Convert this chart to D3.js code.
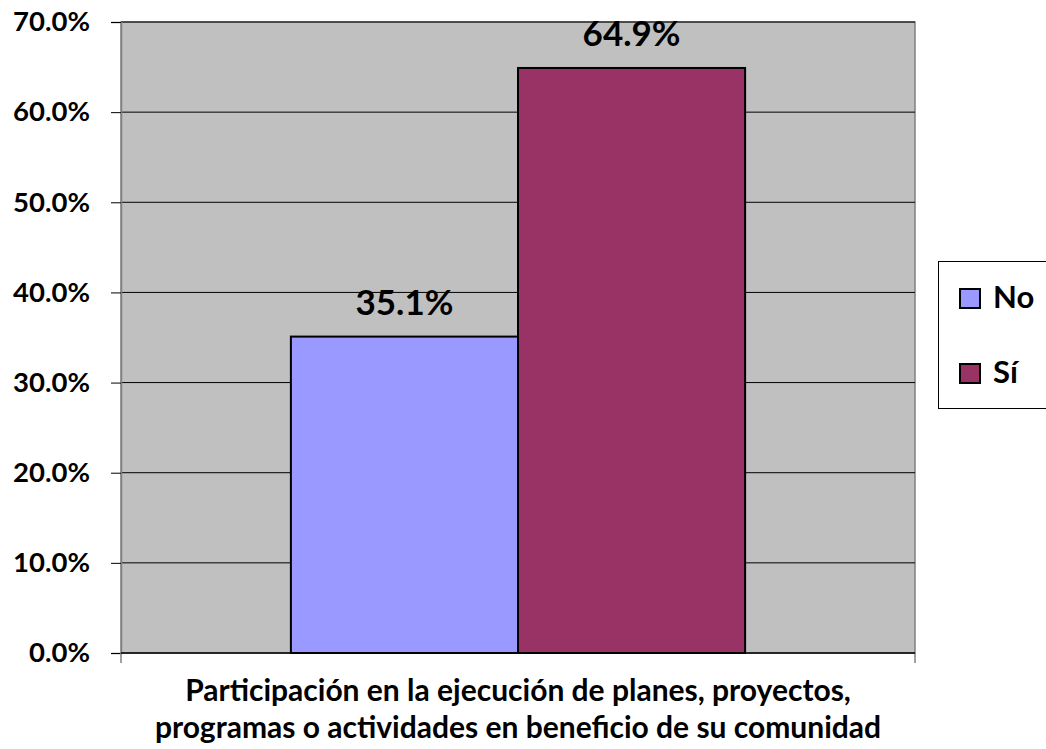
<!DOCTYPE html>
<html><head><meta charset="utf-8">
<script src="https://cdn.jsdelivr.net/npm/d3@7"></script>
<style>body{margin:0;background:#fff}svg{display:block}text{font-family:Lato,"Open Sans",sans-serif;font-weight:bold;fill:#000}</style>
</head><body><svg id="c" width="1046" height="749"></svg>
<script>
const series = ["No", "Sí"];
const values = [0.351, 0.649];
const colors = ["#9999FF", "#993366"];
const yTicks = [0, 0.1, 0.2, 0.3, 0.4, 0.5, 0.6, 0.7];
const titleLines = ["Participación en la ejecución de planes, proyectos,", "programas o actividades en beneficio de su comunidad"];

const svg = d3.select("#c");
const L = 121, R = 915, T = 22, B = 653;
const y = d3.scaleLinear().domain([0, 0.7]).range([B, T]);
const xOuter = d3.scaleBand().domain(["c"]).range([L, R]).paddingInner(0).paddingOuter(0.374);
const x = d3.scaleBand().domain(series).range([xOuter("c"), xOuter("c") + xOuter.bandwidth()]);

svg.append("rect").attr("x", L).attr("y", T).attr("width", R - L).attr("height", B - T)
  .attr("fill", "#C0C0C0").attr("stroke", "#808080").attr("stroke-width", 1.5);

svg.append("g").selectAll("line").data(yTicks.slice(1)).join("line")
  .attr("x1", L).attr("x2", R).attr("y1", d => y(d)).attr("y2", d => y(d))
  .attr("stroke", "#000").attr("stroke-width", 1);

const yAxis = svg.append("g").attr("transform", `translate(${L},0)`)
  .call(d3.axisLeft(y).tickValues(yTicks).tickFormat(d3.format(".1%")).tickSize(10).tickPadding(21));
yAxis.select(".domain").attr("stroke", "#808080").attr("stroke-width", 1.5);
yAxis.selectAll(".tick line").attr("stroke", "#000");
yAxis.selectAll("text").style("font-size", "27.5px").style("font-family", "Lato").style("font-weight", "bold").attr("fill", "#000");

svg.append("g").selectAll("line").data([L, R]).join("line")
  .attr("x1", d => d).attr("x2", d => d).attr("y1", B).attr("y2", B + 10)
  .attr("stroke", "#808080").attr("stroke-width", 1.5);
svg.append("line").attr("x1", L).attr("x2", R).attr("y1", B).attr("y2", B).attr("stroke", "#000").attr("stroke-width", 1.5);

svg.append("g").selectAll("rect").data(series).join("rect")
  .attr("x", d => x(d)).attr("width", x.bandwidth())
  .attr("y", (d, i) => y(values[i])).attr("height", (d, i) => B - y(values[i]))
  .attr("fill", (d, i) => colors[i]).attr("stroke", "#000").attr("stroke-width", 2);

svg.append("g").selectAll("text").data(series).join("text")
  .attr("x", d => x(d) + x.bandwidth() / 2).attr("y", (d, i) => y(values[i]) - 22)
  .attr("text-anchor", "middle").style("font-size", "35px")
  .text((d, i) => d3.format(".1%")(values[i]));

svg.append("g").selectAll("text").data(titleLines).join("text")
  .attr("x", (L + R) / 2).attr("y", (d, i) => 701 + i * 37)
  .attr("text-anchor", "middle").style("font-size", "30px").text(d => d);

const lg = svg.append("g");
lg.append("rect").attr("x", 938.5).attr("y", 261.5).attr("width", 120).attr("height", 147)
  .attr("fill", "#fff").attr("stroke", "#000").attr("stroke-width", 1);
const li = lg.selectAll("g").data(series).join("g")
  .attr("transform", (d, i) => `translate(960,${289 + i * 75})`);
li.append("rect").attr("width", 20).attr("height", 19).attr("fill", (d, i) => colors[i]).attr("stroke", "#000").attr("stroke-width", 2);
li.append("text").attr("x", 33).attr("y", 19).style("font-size", "31px").text(d => d);
</script></body></html>
